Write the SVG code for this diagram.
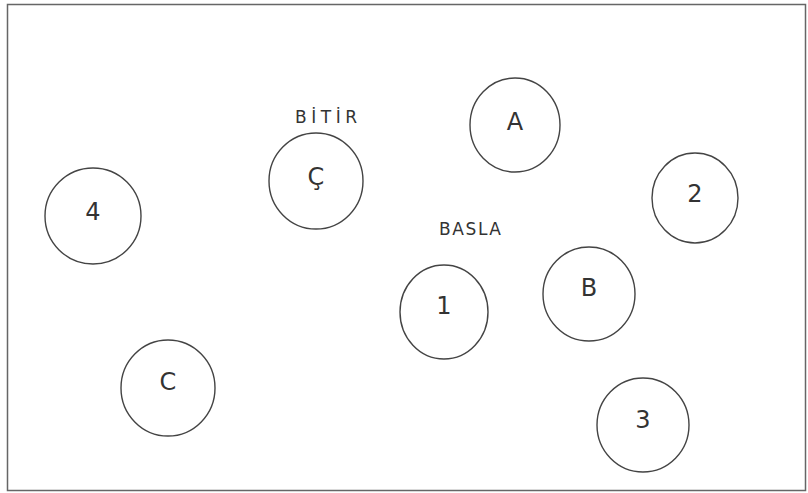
<svg xmlns="http://www.w3.org/2000/svg" width="808" height="493" viewBox="0 0 808 493">
<style>
.n ellipse{fill:none;stroke:#444;stroke-width:1.4}
.n text{font-family:"DejaVu Sans","Liberation Sans",sans-serif;font-size:24px;fill:#333;text-anchor:middle;dominant-baseline:central}
.lbl{font-family:"DejaVu Sans","Liberation Sans",sans-serif;font-size:17px;fill:#333}
</style>
<rect width="808" height="493" fill="#fff"/>
<rect x="7.5" y="4.5" width="798" height="486" fill="none" stroke="#666" stroke-width="1.5"/>
<g id="connectors"></g>
<g id="n4" class="n"><ellipse cx="93" cy="216" rx="48" ry="48"/><text x="93" y="212">4</text></g>
<g id="nC_ced" class="n"><ellipse cx="316" cy="181" rx="47" ry="48"/><text x="316" y="177">Ç</text></g>
<g id="nA" class="n"><ellipse cx="515" cy="125" rx="45" ry="47"/><text x="515" y="122">A</text></g>
<g id="n2" class="n"><ellipse cx="695" cy="198" rx="43" ry="45"/><text x="695" y="194">2</text></g>
<g id="n1" class="n"><ellipse cx="444" cy="312" rx="44" ry="47"/><text x="444" y="306">1</text></g>
<g id="nB" class="n"><ellipse cx="589" cy="294" rx="46" ry="47"/><text x="589" y="288">B</text></g>
<g id="nC" class="n"><ellipse cx="168" cy="388" rx="47" ry="48"/><text x="168" y="382">C</text></g>
<g id="n3" class="n"><ellipse cx="643" cy="425" rx="46" ry="47"/><text x="643" y="420">3</text></g>
<g id="labels">
<text class="lbl" x="295" y="123" textLength="62" lengthAdjust="spacing">BİTİR</text>
<text class="lbl" x="439" y="235" textLength="62" lengthAdjust="spacing">BASLA</text>
</g>
</svg>
